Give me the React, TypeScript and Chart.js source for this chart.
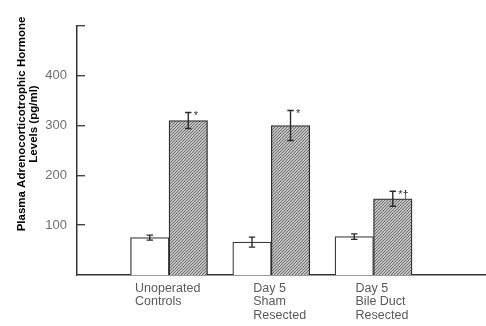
import { useEffect, useRef } from 'react';
import { Chart, registerables } from 'chart.js';

Chart.register(...registerables);

// ---- data ----
const categories: string[][] = [
  ['Unoperated', 'Controls'],
  ['Day 5', 'Sham', 'Resected'],
  ['Day 5', 'Bile Duct', 'Resected'],
];
const groupX = [1, 2, 3];
const controlValues = [75, 66, 77];
const controlErrors = [5, 10, 5.5];
const treatedValues = [310, 300, 153];
const treatedErrors = [16, 30, 15];
const treatedMarks = ['*', '*', '*\u2020'];
const yTickValues = [100, 200, 300, 400, 500];
const yTickLabels = ['100', '200', '300', '400', ''];
const yTitle = ['Plasma Adrenocorticotrophic Hormone', 'Levels (pg/ml)'];

const FONT = "'Liberation Sans', Arial, Helvetica, sans-serif";

function makeHatch(ctx: CanvasRenderingContext2D): CanvasPattern | string {
  const c = document.createElement('canvas');
  c.width = 3;
  c.height = 3;
  const g = c.getContext('2d');
  if (!g) return '#9a9a9a';
  g.fillStyle = '#bfbfbf';
  g.fillRect(0, 0, 3, 3);
  g.strokeStyle = '#6a6a6a';
  g.lineWidth = 0.9;
  g.beginPath();
  g.moveTo(0, 3); g.lineTo(3, 0);
  g.moveTo(-1, 1); g.lineTo(1, -1);
  g.moveTo(2, 4); g.lineTo(4, 2);
  g.stroke();
  return ctx.createPattern(c, 'repeat') || '#9a9a9a';
}

const annotPlugin = {
  id: 'annot',
  afterDatasetsDraw(chart: any) {
    const { ctx, scales } = chart;
    const y = scales.y;
    const x = scales.x;
    const errs = [controlErrors, treatedErrors];
    const vals = [controlValues, treatedValues];
    ctx.save();
    // error bars
    [0, 1].forEach((di) => {
      const meta = chart.getDatasetMeta(di);
      meta.data.forEach((bar: any, i: number) => {
        const cx = bar.x;
        const top = y.getPixelForValue(vals[di][i] + errs[di][i]);
        const bot = y.getPixelForValue(vals[di][i] - errs[di][i]);
        ctx.strokeStyle = '#2a2a2a';
        ctx.lineWidth = 1.4;
        ctx.beginPath();
        ctx.moveTo(cx, top); ctx.lineTo(cx, bot);
        ctx.moveTo(cx - 3.2, top); ctx.lineTo(cx + 3.2, top);
        ctx.moveTo(cx - 3.2, bot); ctx.lineTo(cx + 3.2, bot);
        ctx.stroke();
        if (di === 1) {
          ctx.fillStyle = '#333';
          ctx.font = `11px ${FONT}`;
          ctx.textAlign = 'left';
          ctx.textBaseline = 'top';
          ctx.fillText(treatedMarks[i], cx + 5.5, top - 2);
        }
      });
    });
    // category labels
    const shifts = [-34, -18, -18];
    ctx.fillStyle = '#5a5a5a';
    ctx.font = `12.5px ${FONT}`;
    ctx.textAlign = 'left';
    ctx.textBaseline = 'middle';
    categories.forEach((lines, i) => {
      const px = x.getPixelForValue(groupX[i]) + shifts[i];
      lines.forEach((ln, k) => {
        ctx.fillText(ln, px, chart.chartArea.bottom + 13.5 + k * 13.5);
      });
    });
    // y title
    ctx.fillStyle = '#000';
    ctx.font = `bold 11.5px ${FONT}`;
    ctx.textAlign = 'center';
    ctx.textBaseline = 'middle';
    yTitle.forEach((ln, k) => {
      ctx.save();
      ctx.translate(22 + k * 11.5, 124);
      ctx.rotate(-Math.PI / 2);
      ctx.fillText(ln, 0, 0);
      ctx.restore();
    });
    ctx.restore();
  },
};

export default function App() {
  const ref = useRef<HTMLCanvasElement | null>(null);
  useEffect(() => {
    const canvas = ref.current;
    if (!canvas) return;
    const ctx = canvas.getContext('2d')!;
    const hatch = makeHatch(ctx);
    const chart = new Chart(ctx, {
      type: 'bar',
      data: {
        datasets: [
          {
            label: 'Control',
            data: groupX.map((gx, i) => ({ x: gx, y: controlValues[i] })),
            backgroundColor: '#ffffff',
            borderColor: '#3a3a3a',
            borderWidth: 1.3,
            barThickness: 38.5,
          },
          {
            label: 'Treated',
            data: groupX.map((gx, i) => ({ x: gx, y: treatedValues[i] })),
            backgroundColor: hatch as any,
            borderColor: '#2e2e2e',
            borderWidth: 1.3,
            barThickness: 38.5,
          },
        ],
      },
      options: {
        responsive: false,
        animation: false,
        layout: { padding: { top: 9, right: 0, left: 0, bottom: 0 } },
        plugins: { legend: { display: false }, tooltip: { enabled: false } },
        scales: {
          x: {
            type: 'linear',
            min: 0.1,
            max: 4.1,
            offset: false,
            bounds: 'data',
            grid: { display: false, offset: false },
            ticks: { display: false },
            border: { display: true, color: '#333', width: 1.5 },
            afterFit(scale: any) { scale.height = 51; },
          },
          y: {
            min: 0,
            max: 500,
            afterBuildTicks(scale: any) {
              scale.ticks = yTickValues.map((v) => ({ value: v }));
            },
            ticks: {
              callback: (v: any) => yTickLabels[yTickValues.indexOf(Number(v))] ?? '',
              color: '#6e6e6e',
              font: { family: FONT, size: 13 },
              padding: 18,
            },
            grid: {
              drawOnChartArea: false,
              drawTicks: true,
              tickLength: -8,
              color: '#444',
              lineWidth: 1.4,
            },
            border: { display: true, color: '#333', width: 1.5 },
            afterFit(scale: any) { scale.width = 77; },
          },
        },
      },
      plugins: [annotPlugin],
    } as any);
    return () => chart.destroy();
  }, []);
  return (
    <div style={{ position: 'absolute', left: 0, top: 0, width: 486, height: 326, background: '#fff' }}>
      <canvas ref={ref} width={486} height={326} />
    </div>
  );
}
